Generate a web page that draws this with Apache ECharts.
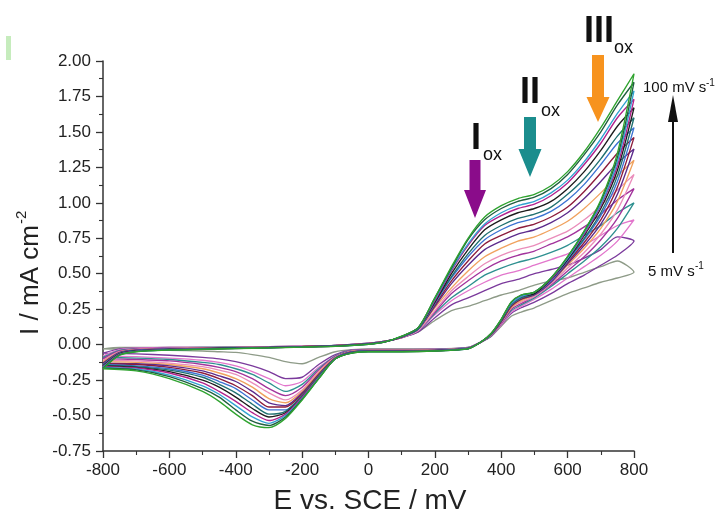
<!DOCTYPE html>
<html>
<head>
<meta charset="utf-8">
<script src="https://cdn.jsdelivr.net/npm/echarts@6/dist/echarts.min.js"></script>
<style>
html,body{margin:0;padding:0;background:#fff;}
#chart{width:726px;height:513px;}
</style>
</head>
<body>
<div id="chart"></div>
<script>
// ---- Data ----
const scanRates = [5,10,15,20,25,30,40,45,50,55,60,70,75,80,90,100]; // mV/s
const xTicks = [-800,-600,-400,-200,0,200,400,600,800];
const yTicks = [-0.75,-0.50,-0.25,0.00,0.25,0.50,0.75,1.00,1.25,1.50,1.75,2.00];

// potentials of the anodic (forward) branch and the return branch, mV
const E_fwd = [-800,-750,-700,-600,-500,-400,-300,-200,-100,0,50,100,150,200,250,300,350,400,450,500,550,600,650,700,750,800];
const E_rev = [800,750,700,650,600,550,500,460,430,400,370,340,300,200,100,0,-50,-100,-150,-200,-250,-300,-350,-400,-450,-500,-600,-700,-800];

// current densities, mA cm^-2
const f05 = [-.03,-.02,-.02,-.02,-.02,-.015,-.015,-.01,-.005,.01,.025,.05,.09,.17,.24,.27,.31,.35,.38,.42,.45,.47,.51,.55,.59,.51];
const f10 = [-.06,-.03,-.025,-.02,-.02,-.02,-.015,-.01,-.005,.01,.025,.05,.09,.19,.28,.33,.38,.43,.46,.50,.53,.56,.61,.67,.76,.73];
const f15 = [-.08,-.035,-.025,-.02,-.02,-.02,-.015,-.01,-.005,.01,.025,.05,.10,.21,.31,.38,.44,.49,.52,.56,.60,.64,.70,.77,.84,.88];
const f20 = [-.09,-.04,-.03,-.025,-.02,-.02,-.015,-.012,-.006,.008,.024,.05,.10,.22,.33,.41,.49,.54,.58,.61,.65,.70,.77,.84,.93,1.00];
const f25 = [-.10,-.045,-.03,-.025,-.022,-.02,-.017,-.012,-.006,.008,.024,.05,.10,.23,.36,.45,.53,.59,.63,.66,.71,.76,.83,.92,1.02,1.10];
const f30 = [-.11,-.05,-.033,-.027,-.024,-.02,-.017,-.013,-.007,.007,.023,.05,.10,.24,.38,.48,.57,.63,.67,.70,.75,.80,.88,.98,1.09,1.20];
const f40 = [-.12,-.052,-.035,-.028,-.025,-.022,-.018,-.013,-.007,.007,.023,.052,.11,.26,.40,.52,.62,.68,.73,.76,.81,.87,.96,1.07,1.19,1.30];
const f45 = [-.13,-.055,-.037,-.03,-.026,-.022,-.018,-.014,-.008,.006,.022,.052,.11,.27,.43,.56,.67,.73,.78,.81,.86,.93,1.03,1.15,1.28,1.38];
const f50 = [-.135,-.058,-.04,-.031,-.027,-.023,-.019,-.014,-.008,.006,.022,.054,.11,.28,.45,.59,.71,.77,.82,.85,.90,.97,1.08,1.21,1.35,1.46];
const f55 = [-.14,-.06,-.041,-.032,-.028,-.024,-.02,-.015,-.009,.005,.021,.054,.11,.29,.47,.62,.74,.81,.86,.89,.94,1.02,1.13,1.27,1.42,1.53];
const f60 = [-.145,-.062,-.043,-.033,-.029,-.024,-.02,-.015,-.009,.005,.021,.055,.11,.30,.48,.64,.77,.84,.89,.92,.97,1.06,1.17,1.31,1.47,1.60];
const f70 = [-.15,-.065,-.045,-.034,-.03,-.025,-.021,-.016,-.01,.004,.02,.056,.12,.30,.50,.67,.81,.88,.93,.96,1.01,1.10,1.22,1.37,1.54,1.67];
const f75 = [-.155,-.067,-.046,-.035,-.03,-.026,-.021,-.016,-.01,.004,.02,.057,.12,.31,.52,.70,.84,.91,.96,.99,1.05,1.14,1.27,1.42,1.60,1.73];
const f80 = [-.16,-.07,-.048,-.036,-.031,-.026,-.022,-.017,-.011,.003,.02,.058,.12,.32,.53,.71,.85,.93,.98,1.01,1.07,1.16,1.29,1.45,1.63,1.79];
const f90 = [-.165,-.072,-.049,-.037,-.032,-.027,-.022,-.017,-.011,.003,.02,.059,.12,.33,.54,.74,.88,.96,1.01,1.04,1.10,1.20,1.34,1.50,1.69,1.85];
const f100 = [-.17,-.075,-.05,-.038,-.033,-.028,-.023,-.018,-.012,.002,.02,.06,.12,.33,.55,.75,.90,.98,1.03,1.06,1.12,1.22,1.36,1.53,1.72,1.91];

const r05 = [.51,.47,.44,.40,.36,.31,.26,.23,.20,.13,.06,.02,-.02,-.03,-.03,-.03,-.035,-.05,-.09,-.135,-.12,-.09,-.07,-.055,-.05,-.045,-.04,-.035,-.03];
const r10 = [.73,.63,.56,.49,.43,.36,.30,.26,.22,.14,.06,.02,-.02,-.032,-.033,-.033,-.038,-.07,-.14,-.23,-.24,-.19,-.15,-.12,-.10,-.09,-.075,-.065,-.06];
const r15 = [.88,.73,.63,.55,.47,.39,.32,.27,.23,.14,.065,.02,-.022,-.034,-.035,-.035,-.04,-.08,-.16,-.26,-.29,-.24,-.19,-.15,-.125,-.11,-.095,-.085,-.08];
const r20 = [1.00,.82,.69,.59,.50,.41,.33,.28,.24,.15,.065,.02,-.022,-.035,-.037,-.037,-.042,-.08,-.17,-.28,-.33,-.27,-.21,-.17,-.14,-.125,-.105,-.095,-.09];
const r25 = [1.10,.89,.74,.62,.52,.42,.34,.29,.25,.15,.07,.02,-.023,-.036,-.038,-.038,-.044,-.085,-.18,-.30,-.36,-.31,-.24,-.19,-.16,-.14,-.115,-.105,-.10];
const r30 = [1.20,.95,.78,.65,.54,.43,.34,.30,.26,.155,.07,.02,-.024,-.037,-.04,-.04,-.046,-.09,-.19,-.32,-.39,-.34,-.27,-.21,-.18,-.155,-.13,-.115,-.11];
const r40 = [1.30,1.01,.82,.68,.56,.44,.35,.31,.26,.16,.07,.02,-.025,-.038,-.041,-.041,-.048,-.09,-.20,-.33,-.41,-.38,-.30,-.24,-.20,-.17,-.14,-.125,-.12];
const r45 = [1.38,1.06,.85,.70,.57,.44,.35,.32,.27,.16,.072,.02,-.025,-.039,-.042,-.042,-.05,-.095,-.21,-.34,-.43,-.41,-.33,-.26,-.22,-.185,-.15,-.135,-.13];
const r50 = [1.46,1.11,.88,.72,.58,.45,.36,.32,.27,.165,.074,.02,-.026,-.04,-.044,-.044,-.052,-.095,-.21,-.35,-.44,-.44,-.36,-.29,-.24,-.20,-.16,-.14,-.135];
const r55 = [1.53,1.15,.91,.74,.59,.45,.36,.33,.28,.17,.075,.02,-.027,-.041,-.045,-.045,-.053,-.095,-.22,-.36,-.46,-.46,-.39,-.31,-.26,-.215,-.17,-.15,-.14];
const r60 = [1.60,1.19,.93,.75,.60,.46,.36,.33,.28,.17,.076,.02,-.027,-.042,-.046,-.046,-.054,-.10,-.22,-.36,-.47,-.49,-.42,-.34,-.28,-.23,-.18,-.155,-.145];
const r70 = [1.67,1.23,.96,.77,.60,.46,.36,.34,.29,.172,.077,.02,-.028,-.043,-.047,-.047,-.056,-.10,-.23,-.37,-.48,-.51,-.45,-.37,-.30,-.25,-.19,-.16,-.15];
const r75 = [1.73,1.26,.98,.78,.61,.46,.37,.34,.29,.175,.078,.02,-.028,-.043,-.048,-.048,-.057,-.10,-.23,-.37,-.49,-.535,-.48,-.40,-.33,-.27,-.20,-.165,-.155];
const r80 = [1.79,1.29,.99,.79,.61,.47,.37,.34,.29,.177,.079,.02,-.029,-.044,-.049,-.049,-.058,-.10,-.235,-.38,-.50,-.555,-.51,-.43,-.35,-.29,-.215,-.172,-.16];
const r90 = [1.85,1.32,1.01,.80,.62,.47,.37,.35,.30,.178,.08,.02,-.03,-.045,-.05,-.05,-.059,-.10,-.24,-.385,-.51,-.57,-.54,-.46,-.37,-.31,-.225,-.178,-.165];
const r100 = [1.91,1.35,1.02,.80,.62,.47,.37,.35,.30,.18,.08,.02,-.03,-.045,-.05,-.05,-.06,-.10,-.24,-.39,-.52,-.585,-.565,-.49,-.40,-.33,-.24,-.185,-.17];

const fwdSets = [f05,f10,f15,f20,f25,f30,f40,f45,f50,f55,f60,f70,f75,f80,f90,f100];
const revSets = [r05,r10,r15,r20,r25,r30,r40,r45,r50,r55,r60,r70,r75,r80,r90,r100];
const colors = ['#8e9b88','#7b3a9c','#e276cc','#2e9090','#a2339c','#ea8dbb','#f0a25e','#5c2b8c',
                '#8c1c3c','#3b72d2','#1f7070','#1c1c1c','#b2228c','#32a2d2','#215f40','#2fa32f'];

// ---- Chart ----
const FONT = "'Liberation Sans', Arial, Helvetica, sans-serif";
const chart = echarts.init(document.getElementById('chart'), null, {renderer:'canvas'});

const series = scanRates.map((v, k) => {
  const pts = [];
  E_fwd.forEach((e, i) => pts.push([e, fwdSets[k][i]]));
  E_rev.forEach((e, i) => { if (i > 0) pts.push([e, revSets[k][i]]); });
  return {
    name: v + ' mV/s', type: 'line', data: pts, showSymbol: false, smooth: 0.25,
    lineStyle: {width: 1.35, color: colors[k]}, itemStyle:{color: colors[k]},
    z: 2 + k, animation: false
  };
});

const axisCommon = {
  axisLine: {show: true, onZero: false, lineStyle: {color: '#333', width: 1.5}},
  axisTick: {show: true, inside: false, length: 7, lineStyle: {color: '#333', width: 1.3}},
  minorTick: {show: true, splitNumber: 2, length: 4, lineStyle: {color: '#333', width: 1.1}},
  splitLine: {show: false},
  axisLabel: {color: '#222', fontSize: 17, fontFamily: FONT}
};

chart.setOption({
  backgroundColor: '#ffffff',
  animation: false,
  grid: {left: 103, right: 92, top: 61, bottom: 62, containLabel: false},
  xAxis: Object.assign({}, axisCommon, {
    type: 'value', min: xTicks[0], max: xTicks[xTicks.length-1], interval: 200,
    axisLabel: Object.assign({}, axisCommon.axisLabel, {margin: 11})
  }),
  yAxis: Object.assign({}, axisCommon, {
    type: 'value', min: yTicks[0], max: yTicks[yTicks.length-1], interval: 0.25,
    axisLabel: Object.assign({}, axisCommon.axisLabel, {margin: 12, formatter: v => v.toFixed(2)})
  }),
  series: series
});

// ---- Annotations ----
function blockArrow(x, top, headStart, tip, shaftHalf, headHalf, color) {
  return {type: 'polygon', silent: true, z: 100,
    shape: {points: [[x-shaftHalf, top],[x+shaftHalf, top],[x+shaftHalf, headStart],[x+headHalf, headStart],
                     [x, tip],[x-headHalf, headStart],[x-shaftHalf, headStart]]},
    style: {fill: color}};
}
function txt(x, y, text, size, align, color, weight) {
  return {type: 'text', silent: true, z: 100, x: x, y: y,
    style: {text: text, font: (weight || 'normal') + ' ' + size + 'px ' + FONT, fill: color || '#111', align: align || 'left', verticalAlign: 'middle'}};
}

chart.setOption({
  graphic: [
    {type: 'rect', silent: true, shape: {x: 6, y: 36, width: 5, height: 24}, style: {fill: '#c6ecbd'}},
    // axis titles
    txt(370, 501, 'E vs. SCE / mV', 28, 'center', '#222'),
    {type: 'group', x: 31, y: 272, rotation: Math.PI / 2, silent: true, children: [
      {type: 'text', x: -8, y: 0, style: {text: 'I / mA cm', font: '26px ' + FONT, fill: '#222', align: 'center', verticalAlign: 'middle'}},
      {type: 'text', x: 48, y: -9, style: {text: '-2', font: '15px ' + FONT, fill: '#222', align: 'left', verticalAlign: 'middle'}}
    ]},
    // peak arrows
    blockArrow(475, 160, 190, 218, 5.5, 11, '#8a0c8a'),
    blockArrow(530, 117, 149, 177, 6, 11.5, '#1b8d8d'),
    blockArrow(598, 55, 97, 122, 6, 11.5, '#f7931e'),
    txt(471, 139, 'I', 36, 'left', '#111', 'bold'),
    txt(483, 155, 'ox', 18, 'left'),
    txt(520, 93, 'II', 36, 'left', '#111', 'bold'),
    txt(541, 111, 'ox', 18, 'left'),
    txt(584, 32, 'III', 36, 'left', '#111', 'bold'),
    txt(614, 48, 'ox', 18, 'left'),
    // scan-rate arrow
    {type: 'line', silent: true, z: 100, shape: {x1: 673, y1: 253, x2: 673, y2: 118}, style: {stroke: '#111', lineWidth: 2}},
    {type: 'polygon', silent: true, z: 100, shape: {points: [[668, 122],[678, 122],[673, 95]]}, style: {fill: '#111'}},
    txt(643, 88, '100 mV s', 15, 'left', '#111'),
    txt(706, 83, '-1', 10, 'left', '#111'),
    txt(648, 272, '5 mV s', 15, 'left', '#111'),
    txt(695, 266, '-1', 10, 'left', '#111')
  ]
});
</script>
</body>
</html>
